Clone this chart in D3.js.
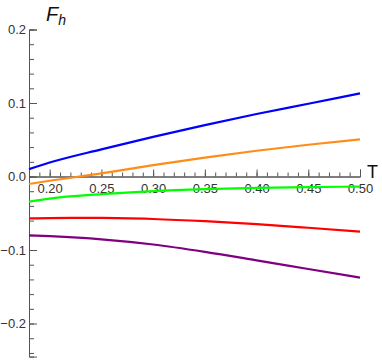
<!DOCTYPE html>
<html>
<head>
<meta charset="utf-8">
<script src="https://cdn.jsdelivr.net/npm/d3@7"></script>
<style>
  body { margin: 0; background: #fff; }
  svg { display: block; font-family: "Liberation Sans", Arial, sans-serif; }
</style>
</head>
<body>
<svg id="chart" width="382" height="363"></svg>
<script>
// temperatures sampled along each curve
var temps = [0.18, 0.20, 0.25, 0.30, 0.35, 0.40, 0.45, 0.50];

// F_h values, one list per curve
var blueVals   = [0.010, 0.019, 0.037, 0.054, 0.070, 0.085, 0.099, 0.113];
var orangeVals = [-0.0102, -0.0058, 0.0042, 0.0155, 0.0258, 0.0350, 0.0432, 0.0505];
var greenVals  = [-0.0343, -0.0300, -0.0240, -0.0198, -0.0172, -0.0155, -0.0144, -0.0137];
var redVals    = [-0.0570, -0.0565, -0.0563, -0.0578, -0.0608, -0.0648, -0.0697, -0.0750];
var purpleVals = [-0.0800, -0.0812, -0.0855, -0.0925, -0.1025, -0.1140, -0.1258, -0.1375];

var seriesColors = ["#0000ff", "#ff8c1a", "#00ff00", "#ff0000", "#800080"];

var xMajor = [0.20, 0.25, 0.30, 0.35, 0.40, 0.45, 0.50];
var yMajor = [-0.2, -0.1, 0.0, 0.1, 0.2];

var svg = d3.select("#chart");

var x = d3.scaleLinear().domain([0.18, 0.50]).range([29, 360]);
var y = d3.scaleLinear().domain([-0.245, 0.2]).range([356.6, 29.5]);

var axisColor = "#555",
    textColor = "#333";

// minor ticks (no labels)
var xMinor = d3.range(19, 51).map(function (d) { return d / 100; });
var yMinor = d3.range(-12, 10).map(function (d) { return d * 0.02; });

var gx = svg.append("g").attr("transform", "translate(0," + y(0) + ")");
gx.append("g").call(d3.axisBottom(x).tickValues(xMinor).tickSize(-4).tickFormat(""));
gx.append("g").call(d3.axisBottom(x).tickValues(xMajor).tickSize(-7).tickPadding(5)
    .tickFormat(d3.format(".2f")));

var gy = svg.append("g").attr("transform", "translate(" + x(0.18) + ",0)");
gy.append("g").call(d3.axisLeft(y).tickValues(yMinor).tickSize(-5).tickFormat(""));
gy.append("g").call(d3.axisLeft(y).tickValues(yMajor).tickSize(-8).tickPadding(3)
    .tickFormat(d3.format(".1f")));

svg.selectAll(".domain").attr("stroke", axisColor);
svg.selectAll(".tick line").attr("stroke", axisColor);
svg.selectAll(".tick text").attr("fill", textColor).attr("font-size", 13)
    .attr("font-family", "Liberation Sans, Arial, sans-serif");
gx.selectAll(".tick text").attr("dy", "0.85em");

// curves
var allSeries = [blueVals, orangeVals, greenVals, redVals, purpleVals];
var line = d3.line()
    .x(function (d, i) { return x(temps[i]); })
    .y(function (d) { return y(d); })
    .curve(d3.curveMonotoneX);

svg.append("g").selectAll("path")
    .data(allSeries)
    .enter().append("path")
        .attr("d", line)
        .attr("fill", "none")
        .attr("stroke", function (d, i) { return seriesColors[i]; })
        .attr("stroke-width", 2.2);

// axis labels
var fl = svg.append("text")
    .attr("x", 46).attr("y", 21)
    .attr("font-size", 20).attr("font-style", "italic").attr("fill", "#111");
fl.append("tspan").text("F");
fl.append("tspan").attr("font-size", 14).attr("dy", 4).text("h");

svg.append("text")
    .attr("x", 367).attr("y", 178)
    .attr("font-size", 18).attr("fill", "#111")
    .text("T");
</script>
</body>
</html>
